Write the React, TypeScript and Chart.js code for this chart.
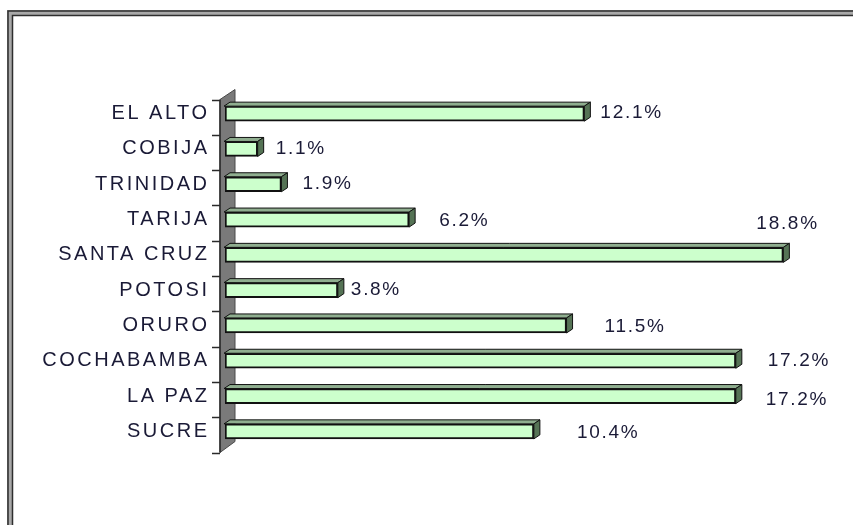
import React, { useEffect, useRef } from "react";
import { Chart, registerables } from "chart.js";

Chart.register(...registerables);

const categories = [
  "EL ALTO",
  "COBIJA",
  "TRINIDAD",
  "TARIJA",
  "SANTA CRUZ",
  "POTOSI",
  "ORURO",
  "COCHABAMBA",
  "LA PAZ",
  "SUCRE",
];
const shares = [12.1, 1.1, 1.9, 6.2, 18.8, 3.8, 11.5, 17.2, 17.2, 10.4];
const valueLabels = ["12.1%", "1.1%", "1.9%", "6.2%", "18.8%", "3.8%", "11.5%", "17.2%", "17.2%", "10.4%"];
const axisMin = 0;
const axisMax = 20;

const TEXT_COLOR = "#1a1a36";
const FONT_FAMILY = "'Liberation Sans', Arial, sans-serif";

export default function App() {
  const ref = useRef<HTMLCanvasElement | null>(null);

  useEffect(() => {
    const canvas = ref.current;
    if (!canvas) return;
    document.body.style.margin = "0";

    // label placement (dx from bar end, dy from bar centre) – styling only
    const labelOffsets: [number, number][] = [
      [16, -2],
      [18, -1],
      [21, -1],
      [30, 0],
      [-27, -32],
      [13, -1],
      [38, 0],
      [32, -1],
      [30, 3],
      [43, 0],
    ];

    const depthX = 6;
    const depthY = -4;

    const framePlugin = {
      id: "frame3d",
      beforeDraw(chart: any) {
        const ctx = chart.ctx as CanvasRenderingContext2D;
        const W = chart.width;
        const H = chart.height;
        ctx.save();
        ctx.fillStyle = "#ffffff";
        ctx.fillRect(0, 0, W, H);
        ctx.strokeStyle = "#a8a8a8";
        ctx.lineWidth = 6;
        ctx.strokeRect(10, 13, W + 20, H + 20);
        ctx.strokeStyle = "#2e2e2e";
        ctx.lineWidth = 1.5;
        ctx.strokeRect(8, 11, W + 20, H + 20);
        ctx.strokeRect(12.5, 15.5, W + 20, H + 20);
        ctx.restore();
        (ctx as any).letterSpacing = "2.5px";
      },
      beforeDatasetsDraw(chart: any) {
        const ctx = chart.ctx as CanvasRenderingContext2D;
        const area = chart.chartArea;
        const n = categories.length;
        const step = (area.bottom - area.top) / n;
        const shift = 3.5;
        const wl = area.left - 5;
        const wr = wl + 15;
        const top = area.top + shift;
        const bot = area.bottom + shift;
        ctx.save();
        ctx.beginPath();
        ctx.moveTo(wl, top);
        ctx.lineTo(wr, top - 10);
        ctx.lineTo(wr, bot - 11);
        ctx.lineTo(wl, bot);
        ctx.closePath();
        ctx.fillStyle = "#7a7a7a";
        ctx.fill();
        ctx.strokeStyle = "#4a4a4a";
        ctx.lineWidth = 1;
        ctx.stroke();
        ctx.beginPath();
        ctx.strokeStyle = "#2a2a2a";
        ctx.lineWidth = 1.5;
        ctx.moveTo(wl, top);
        ctx.lineTo(wl, bot);
        for (let i = 0; i <= n; i++) {
          const y = Math.round(area.top + i * step + shift) + 0.5;
          ctx.moveTo(wl - 8, y);
          ctx.lineTo(wl, y);
        }
        ctx.stroke();
        ctx.restore();
      },
      afterDatasetsDraw(chart: any) {
        const ctx = chart.ctx as CanvasRenderingContext2D;
        const meta = chart.getDatasetMeta(0);
        ctx.save();
        (ctx as any).letterSpacing = "0px";
        meta.data.forEach((bar: any) => {
          const p = bar.getProps(["x", "y", "base", "height"], true);
          const x0 = p.base - 1;
          const x1 = p.x;
          const yt = p.y - p.height / 2;
          const yb = p.y + p.height / 2;
          ctx.lineWidth = 1;
          ctx.strokeStyle = "#111";
          // top face
          ctx.beginPath();
          ctx.moveTo(x0, yt);
          ctx.lineTo(x0 + depthX, yt + depthY);
          ctx.lineTo(x1 + depthX, yt + depthY);
          ctx.lineTo(x1, yt);
          ctx.closePath();
          ctx.fillStyle = "#8fae8f";
          ctx.fill();
          ctx.stroke();
          // side face
          ctx.beginPath();
          ctx.moveTo(x1, yt);
          ctx.lineTo(x1 + depthX, yt + depthY);
          ctx.lineTo(x1 + depthX, yb + depthY);
          ctx.lineTo(x1, yb);
          ctx.closePath();
          ctx.fillStyle = "#557355";
          ctx.fill();
          ctx.stroke();
        });
        ctx.restore();
      },
      afterDraw(chart: any) {
        const ctx = chart.ctx as CanvasRenderingContext2D;
        const meta = chart.getDatasetMeta(0);
        ctx.save();
        (ctx as any).letterSpacing = "1.7px";
        ctx.font = `19px ${FONT_FAMILY}`;
        ctx.fillStyle = TEXT_COLOR;
        ctx.textAlign = "left";
        ctx.textBaseline = "middle";
        meta.data.forEach((bar: any, i: number) => {
          const p = bar.getProps(["x", "y"], true);
          const [dx, dy] = labelOffsets[i];
          ctx.fillText(valueLabels[i], p.x + dx, p.y + dy + 1);
        });
        ctx.restore();
      },
    };

    const chart = new Chart(canvas, {
      type: "bar",
      data: {
        labels: categories,
        datasets: [
          {
            data: shares,
            backgroundColor: "#ccffcc",
            borderColor: "#111111",
            borderWidth: 2,
            borderSkipped: false,
            barThickness: 15,
          },
        ],
      },
      options: {
        indexAxis: "y",
        animation: false,
        responsive: false,
        maintainAspectRatio: false,
        layout: { padding: { top: 96, bottom: 76, left: 0, right: 34 } },
        plugins: {
          legend: { display: false },
          tooltip: { enabled: false },
        },
        scales: {
          x: {
            display: false,
            min: axisMin,
            max: axisMax,
          },
          y: {
            offset: true,
            grid: { display: false, drawTicks: false },
            border: { display: false },
            afterFit: (scale: any) => {
              scale.width = 225;
            },
            ticks: {
              padding: 15.5,
              color: TEXT_COLOR,
              font: { family: FONT_FAMILY, size: 20 },
              autoSkip: false,
            },
          },
        },
      },
      plugins: [framePlugin],
    });

    return () => chart.destroy();
  }, []);

  return (
    <div style={{ position: "absolute", left: 0, top: 0, width: 853, height: 525 }}>
      <canvas ref={ref} width={853} height={525} style={{ display: "block" }} />
    </div>
  );
}
